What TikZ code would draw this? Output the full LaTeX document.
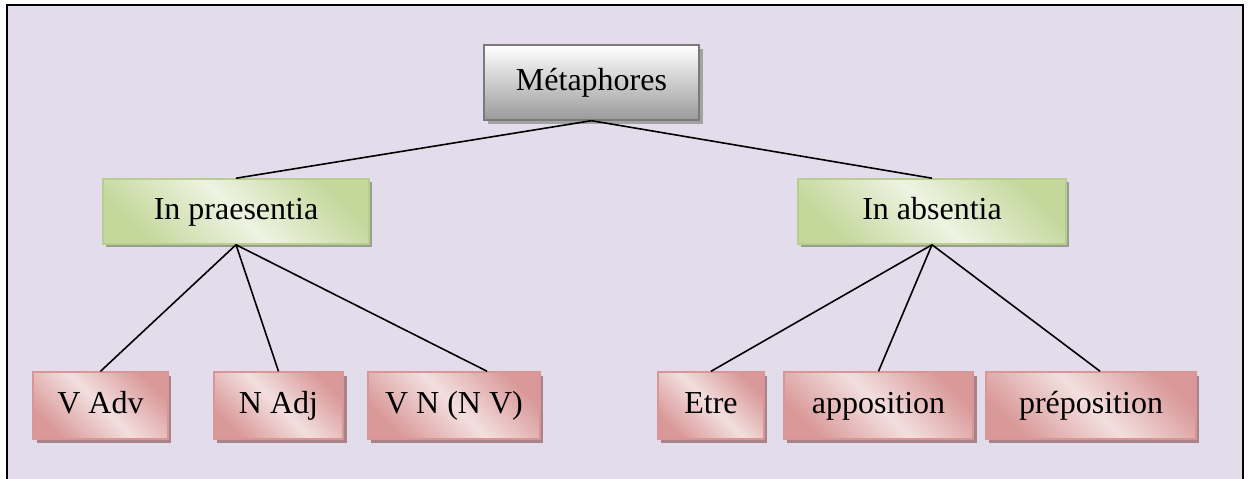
\documentclass[tikz,border=0pt]{standalone}
\usepackage{fontspec}
\setmainfont{Liberation Serif}
\usetikzlibrary{shadows}
\definecolor{bg}{HTML}{E3DDEB}
\definecolor{grnD}{HTML}{C4D89C}
\definecolor{grnL}{HTML}{EEF3E2}
\definecolor{grnB}{HTML}{B9CE8E}
\definecolor{pnkD}{HTML}{DA9999}
\definecolor{pnkL}{HTML}{F3DFDF}
\definecolor{pnkB}{HTML}{D89696}
\definecolor{grayB}{HTML}{7A7A7A}
\definecolor{grayD}{HTML}{9A9A9A}
\definecolor{shG}{HTML}{9A9E92}
\definecolor{shP}{HTML}{A8838B}
\definecolor{shM}{HTML}{A3A3A3}
\tikzset{
  x=0.375pt, y=-0.375pt,
  base/.style={draw, line width=0.55pt, inner sep=0pt, text height=8.4pt, text depth=2.6pt,
    font=\fontsize{12}{14}\selectfont, text=black},
  topbox/.style={base, draw=grayB, top color=white, bottom color=grayD,
    drop shadow={shadow xshift=1.4pt, shadow yshift=-1.4pt, fill=shM, opacity=1}},
  midbox/.style={base, draw=grnB, left color=grnD, right color=grnD, middle color=grnL, shading angle=135,
    drop shadow={shadow xshift=1.3pt, shadow yshift=-1.3pt, fill=shG, opacity=1}},
  leafbox/.style={base, draw=pnkB, left color=pnkD, right color=pnkD, middle color=pnkL, shading angle=135,
    drop shadow={shadow xshift=1.3pt, shadow yshift=-1.5pt, fill=shP, opacity=1}},
  link/.style={line width=0.6pt, draw=black}
}
\begin{document}
\begin{tikzpicture}
\useasboundingbox (0,0) rectangle (1248,479);
\fill[white] (0,0) rectangle (1248,479);
\draw[line width=0.8pt, fill=bg] (7,5) rectangle (1243,540);

\node[topbox, minimum width=80.6pt, minimum height=28.1pt] (met) at (591.5,82.5) {Métaphores};
\node[midbox, minimum width=99.75pt, minimum height=24.4pt] (prae) at (236,211.5) {In praesentia};
\node[midbox, minimum width=100.5pt, minimum height=24.4pt] (abs) at (932,211.5) {In absentia};

\node[leafbox, minimum width=50.6pt, minimum height=25.1pt] (vadv) at (100.5,405.5) {V Adv};
\node[leafbox, minimum width=48.4pt, minimum height=25.1pt] (nadj) at (278.5,405.5) {N Adj};
\node[leafbox, minimum width=64.5pt, minimum height=25.1pt] (vn) at (454,405.5) {V N (N V)};
\node[leafbox, minimum width=39.75pt, minimum height=25.1pt] (etre) at (711,405.5) {Etre};
\node[leafbox, minimum width=70.9pt, minimum height=25.1pt] (appo) at (878.5,405.5) {apposition};
\node[leafbox, minimum width=78.75pt, minimum height=25.1pt] (prep) at (1091,405.5) {préposition};

\draw[link] (met.south) -- (prae.north);
\draw[link] (met.south) -- (abs.north);
\draw[link] (prae.south) -- (vadv.north);
\draw[link] (prae.south) -- (nadj.north);
\draw[link] (prae.south) -- ([xshift=12.4pt]vn.north);
\draw[link] (abs.south) -- (etre.north);
\draw[link] (abs.south) -- (appo.north);
\draw[link] (abs.south) -- ([xshift=3.4pt]prep.north);
\end{tikzpicture}
\end{document}
